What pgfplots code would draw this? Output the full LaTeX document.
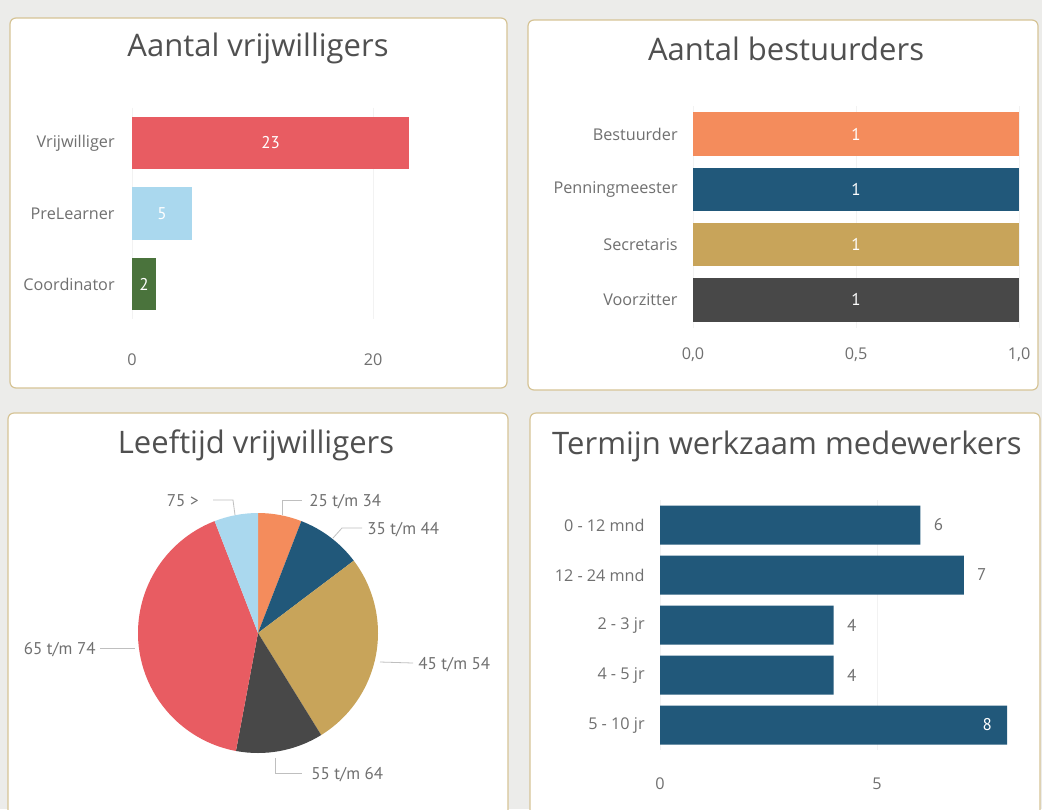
\documentclass[border=0pt]{standalone}
\usepackage{fontspec}
\setmainfont{Open Sans}
\newfontfamily\dinfont{PT Sans}
\usepackage{pgfplots}
\pgfplotsset{compat=1.18}

\definecolor{cRed}{RGB}{232,92,98}
\definecolor{cLight}{RGB}{170,216,238}
\definecolor{cGreen}{RGB}{74,115,60}
\definecolor{cOrange}{RGB}{244,140,92}
\definecolor{cNavy}{RGB}{33,88,122}
\definecolor{cGold}{RGB}{200,164,90}
\definecolor{cDark}{RGB}{72,72,72}
\definecolor{cFrame}{RGB}{214,196,150}
\definecolor{cBack}{RGB}{236,236,234}
\definecolor{cTitle}{RGB}{80,80,80}
\definecolor{cLabel}{RGB}{112,112,112}

\pgfplotsset{
  hb axis/.style={
    scale only axis, clip=false,
    axis line style={draw=none}, major tick length=0pt, tick style={draw=none},
    xmajorgrids, grid style={black!5}, y dir=reverse,
    tick label style={font=\fontsize{8.1}{10}\selectfont, text=cLabel, inner sep=0pt,
      /pgf/number format/assume math mode=true},
    xticklabel style={anchor=center}, yticklabel style={anchor=east},
  },
  mybar/.style={xbar, draw=none, bar shift=0pt},
  inlab/.style={only marks, mark=none, point meta=explicit, nodes near coords,
    nodes near coords style={anchor=center, text=white, inner sep=0pt,
      font=\dinfont\fontsize{8.5}{10}\selectfont,
      /pgf/number format/assume math mode=true}},
}

\begin{document}
\begin{tikzpicture}
% panels, in pixel units of the reference
\begin{scope}[x=0.5pt,y=-0.5pt]
\clip (0,0) rectangle (1042,809);
\fill[cBack] (0,0) rectangle (1042,809);
\filldraw[fill=white, draw=cFrame, line width=0.6pt, rounded corners=3pt] (10,18) rectangle (507,388);
\filldraw[fill=white, draw=cFrame, line width=0.6pt, rounded corners=3pt] (528,20) rectangle (1038,390);
\filldraw[fill=white, draw=cFrame, line width=0.6pt, rounded corners=3pt] (8,413) rectangle (508,830);
\filldraw[fill=white, draw=cFrame, line width=0.6pt, rounded corners=3pt] (530,413) rectangle (1040,830);

\begin{scope}[font=\fontsize{15.5}{18}\selectfont, text=cTitle]
\node[anchor=base] at (258,56) {Aantal vrijwilligers};
\node[anchor=base] at (786,60) {Aantal bestuurders};
\node[anchor=base] at (256,453) {Leeftijd vrijwilligers};
\node[anchor=base] at (787,454) {Termijn werkzaam medewerkers};
\end{scope}

% pie labels and leader lines
\begin{scope}[font=\dinfont\fontsize{8.5}{10}\selectfont, text=cLabel, inner sep=0pt]
\draw[black!25, line width=0.4pt] (213,500) -- (233,500) -- (235,515);
\node[anchor=base east] at (199,506) {75 >};
\draw[black!25, line width=0.4pt] (282,515) -- (282,500) -- (302,500);
\node[anchor=base west] at (309,506) {25 t/m 34};
\draw[black!25, line width=0.4pt] (333,538) -- (342,528) -- (362,528);
\node[anchor=base west] at (367,534) {35 t/m 44};
\draw[black!25, line width=0.4pt] (380,662) -- (413,663);
\node[anchor=base west] at (418,669) {45 t/m 54};
\draw[black!25, line width=0.4pt] (275,758) -- (275,773) -- (302,773);
\node[anchor=base west] at (311,779) {55 t/m 64};
\draw[black!25, line width=0.4pt] (100,648) -- (135,648);
\node[anchor=base east] at (96,654) {65 t/m 74};
\end{scope}
\end{scope}

% Aantal vrijwilligers
\begin{axis}[hb axis, at={(66pt,-53.875pt)}, anchor=north west,
  width=162.7pt, height=105.75pt, bar width=0.75,
  xmin=0, xmax=27, ymin=-0.5, ymax=2.5,
  xtick={0,20}, ytick={0,1,2}, yticklabels={Vrijwilliger,PreLearner,Coordinator},
  xticklabel style={yshift=-20.1pt}, yticklabel style={xshift=-8.5pt}]
\addplot[mybar, fill=cRed] coordinates {(23,0)};
\addplot[mybar, fill=cLight] coordinates {(5,1)};
\addplot[mybar, fill=cGreen] coordinates {(2,2)};
\addplot[inlab] coordinates {(11.5,0)[23] (2.5,1)[5] (1,2)[2]};
\end{axis}

% Aantal bestuurders
\begin{axis}[hb axis, at={(346.5pt,-53.15pt)}, anchor=north west,
  width=163pt, height=110.65pt, bar width=0.78,
  xmin=0, xmax=1, ymin=-0.5, ymax=3.5,
  xtick={0,0.5,1}, ytick={0,1,2,3},
  yticklabels={Bestuurder,Penningmeester,Secretaris,Voorzitter},
  xticklabel style={yshift=-13.65pt, /pgf/number format/.cd, use comma, fixed, fixed zerofill, precision=1},
  yticklabel style={xshift=-7.5pt}]
\addplot[mybar, fill=cOrange] coordinates {(1,0)};
\addplot[mybar, fill=cNavy] coordinates {(1,1)};
\addplot[mybar, fill=cGold] coordinates {(1,2)};
\addplot[mybar, fill=cDark] coordinates {(1,3)};
\addplot[inlab] coordinates {(0.5,0)[1] (0.5,1)[1] (0.5,2)[1] (0.5,3)[1]};
\end{axis}

% Termijn werkzaam medewerkers
\begin{axis}[hb axis, at={(330pt,-250pt)}, anchor=north west,
  width=184.45pt, height=125pt, bar width=0.78,
  xmin=0, xmax=8.5, ymin=-0.5, ymax=4.5,
  xtick={0,5}, ytick={0,1,2,3,4},
  yticklabels={0 - 12 mnd,12 - 24 mnd,2 - 3 jr,4 - 5 jr,5 - 10 jr},
  xticklabel style={yshift=-17pt}, yticklabel style={xshift=-7.5pt}]
\addplot[mybar, fill=cNavy] coordinates {(6,0) (7,1) (4,2) (4,3) (8,4)};
\addplot[inlab, nodes near coords style={anchor=west, xshift=6.5pt, text=cLabel}]
  coordinates {(6,0)[6] (7,1)[7] (4,2)[4] (4,3)[4]};
\addplot[inlab, nodes near coords style={anchor=east, xshift=-7.5pt}]
  coordinates {(8,4)[8]};
\end{axis}

% Leeftijd vrijwilligers (counts per age group, clockwise from the top)
\begin{axis}[at={(129pt,-316.5pt)}, anchor=center, hide axis, scale only axis,
  width=120pt, height=120pt, xmin=-1, xmax=1, ymin=-1, ymax=1]
\pgfplotsextra{
  \gdef\pieA{90}
  \foreach \v/\c in {2/cOrange,3/cNavy,9/cGold,4/cDark,14/cRed,2/cLight}{
    \pgfmathsetmacro\pieB{\pieA-360*\v/34}
    \fill[\c] (axis cs:0,0) -- ++(\pieA:60pt) arc[start angle=\pieA, end angle=\pieB, radius=60pt] -- cycle;
    \xdef\pieA{\pieB}
  }
}
\end{axis}

\pgfresetboundingbox
\path (0,0) rectangle (521pt,-404.5pt);
\end{tikzpicture}
\end{document}
